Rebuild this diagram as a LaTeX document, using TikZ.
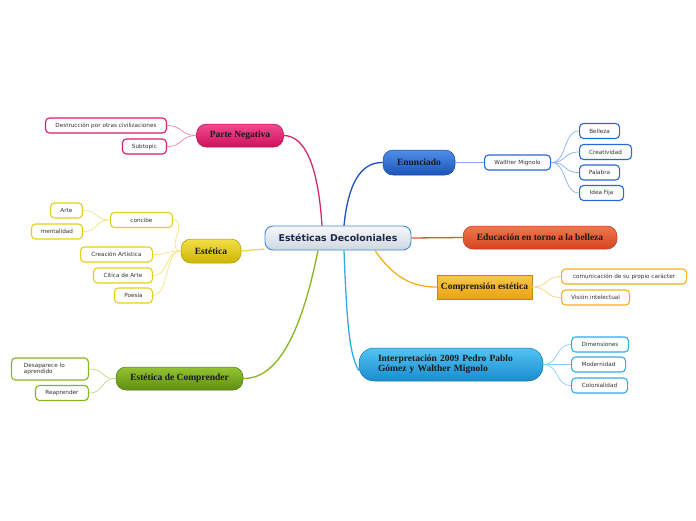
\documentclass[tikz,border=0pt]{standalone}
\usepackage{fontspec}
\setmainfont{Liberation Serif}
\setsansfont{DejaVu Sans}
\usepackage{xcolor}
\usepackage{tikz}
\usetikzlibrary{positioning}

\definecolor{pinkTop}{HTML}{F24A8E}
\definecolor{pinkBot}{HTML}{CE115E}
\definecolor{pinkEdge}{HTML}{D81B6A}
\definecolor{pinkLine}{HTML}{F283B0}
\definecolor{yelTop}{HTML}{F2E046}
\definecolor{yelBot}{HTML}{CDB406}
\definecolor{yelEdge}{HTML}{E5CD1B}
\definecolor{yelLine}{HTML}{F4E382}
\definecolor{grnTop}{HTML}{94C431}
\definecolor{grnBot}{HTML}{5E8E12}
\definecolor{grnEdge}{HTML}{86B521}
\definecolor{grnLine}{HTML}{BCD982}
\definecolor{bluTop}{HTML}{4F8FE8}
\definecolor{bluBot}{HTML}{1C54B8}
\definecolor{bluEdge}{HTML}{2867D6}
\definecolor{bluLine}{HTML}{86AEF0}
\definecolor{redTop}{HTML}{F2774E}
\definecolor{redBot}{HTML}{D5431D}
\definecolor{gldTop}{HTML}{F9C94A}
\definecolor{gldBot}{HTML}{E9A112}
\definecolor{gldEdge}{HTML}{F2B01E}
\definecolor{gldLine}{HTML}{F7D27A}
\definecolor{skyTop}{HTML}{52C4F2}
\definecolor{skyBot}{HTML}{1A8CCF}
\definecolor{skyEdge}{HTML}{33ABE8}
\definecolor{skyLine}{HTML}{86CEF2}
\definecolor{cenTop}{HTML}{F6F8FA}
\definecolor{cenBot}{HTML}{CDD7E1}
\definecolor{cenEdge}{HTML}{3F8BD6}
\definecolor{cenText}{HTML}{1B2A4A}

\begin{document}
\begin{tikzpicture}[x=1pt, y=-1pt,
  topic/.style={rounded corners=10pt, top color=#1Top, bottom color=#1Bot, draw=#1Bot!85!black,
    line width=0.5pt, font=\fontsize{9.5}{10.4}\selectfont\bfseries, text=black!90, inner sep=0pt},
  leaf/.style={draw=#1, line width=1.1pt, fill=white, rounded corners=4pt, minimum height=15pt,
    inner xsep=3pt, inner ysep=1pt, font=\fontsize{5.7}{6.8}\selectfont\sffamily, text=black!80},
  trunk/.style={line width=1.3pt},
  twig/.style={line width=0.7pt}]
\useasboundingbox (0,0) rectangle (696,520);

% centre
\node[rounded corners=8pt, top color=cenTop, bottom color=cenBot, draw=cenEdge, line width=0.9pt,
  minimum width=146pt, minimum height=24pt, text=cenText, inner xsep=2pt,
  font=\fontsize{9.4}{10}\selectfont\sffamily\bfseries] (cen) at (338,238) {Estéticas Decoloniales};

% main topics
\node[topic=pink, minimum width=87pt, minimum height=23pt] (neg) at (240,135.5) {Parte Negativa};
\node[topic=yel, minimum width=60pt, minimum height=24pt] (est) at (211,251) {Estética};
\node[topic=grn, minimum width=127pt, minimum height=23pt] (comp) at (179.5,378.5) {Estética de Comprender};
\node[topic=blu, minimum width=72pt, minimum height=25pt] (enun) at (419,162.5) {Enunciado};
\node[topic=red, minimum width=154pt, minimum height=23pt] (edu) at (540,237.5) {Educación en torno a la belleza};
\node[topic=gld, rounded corners=0pt, minimum width=95pt, minimum height=24pt] (cest) at (484.5,287) {Comprensión estética};
\node[topic=sky, rounded corners=15pt, minimum width=184pt, minimum height=33pt, text width=146pt,
  align=left, inner xsep=19pt] (interp) at (451,364.5) {Interpretación 2009 Pedro Pablo\\Gómez y Walther Mignolo};

% trunk connectors
\draw[trunk, pinkBot!90] ([xshift=-16pt]cen.north) .. controls (318,165) and (305,136) .. (neg.east);
\draw[trunk, bluBot] ([xshift=6pt]cen.north) .. controls (348,185) and (360,162) .. (enun.west);
\draw[trunk, redBot!90] (cen.east) -- (edu.west);
\draw[trunk, gldEdge] ([xshift=37pt]cen.south) .. controls (395,280) and (415,287) .. (cest.west);
\draw[trunk, skyEdge] ([xshift=6pt]cen.south) .. controls (347,330) and (350,355) .. ([yshift=-6pt]interp.west);
\draw[trunk, grnEdge] ([xshift=-20pt]cen.south) .. controls (300,340) and (275,379) .. (comp.east);
\draw[trunk, yelEdge!80] ([yshift=-11pt]cen.west) -- (est.east);

% Parte Negativa
\node[leaf=pinkEdge, minimum width=121pt, anchor=east] (destr) at (167,125.5) {Destrucción por otras civilizaciones};
\node[leaf=pinkEdge, minimum width=44pt, anchor=east] (subt) at (167,146.5) {Subtopic};
\foreach \n in {destr,subt}
  \draw[twig, pinkLine] (neg.west) .. controls +(-16,0) and +(16,0) .. (\n.east);

% Estética
\node[leaf=yelEdge, minimum width=62pt, anchor=east] (conc) at (173,220) {concibe};
\node[leaf=yelEdge, minimum width=32pt, anchor=east] (arte) at (83,210.5) {Arte};
\node[leaf=yelEdge, minimum width=51pt, anchor=east] (ment) at (83,231.5) {mentalidad};
\node[leaf=yelEdge, minimum width=72pt, anchor=east] (crea) at (153,254.5) {Creación Artística};
\node[leaf=yelEdge, minimum width=59pt, anchor=east] (citi) at (153,275.5) {Citica de Arte};
\node[leaf=yelEdge, minimum width=38pt, anchor=east] (poes) at (153,295.5) {Poesía};
\foreach \n in {conc,crea,citi,poes}
  \draw[twig, yelLine] (est.west) .. controls +(-16,0) and +(16,0) .. (\n.east);
\foreach \n in {arte,ment}
  \draw[twig, yelLine] (conc.west) .. controls +(-16,0) and +(16,0) .. (\n.east);

% Estética de Comprender
\node[leaf=grnEdge, minimum width=77pt, minimum height=22pt, text width=52pt, align=left,
  inner xsep=12.5pt, anchor=east] (desa) at (89,369) {Desaparece lo\\aprendido};
\node[leaf=grnEdge, minimum width=53pt, anchor=east] (reap) at (89,393) {Reaprender};
\foreach \n in {desa,reap}
  \draw[twig, grnLine] (comp.west) .. controls +(-16,0) and +(16,0) .. (\n.east);

% Enunciado
\node[leaf=bluEdge, minimum width=66pt, anchor=west] (walt) at (484,162.5) {Walther Mignolo};
\draw[twig, bluLine] (enun.east) -- (walt.west);
\node[leaf=bluEdge, minimum width=40pt, anchor=west] (bell) at (579,131) {Belleza};
\node[leaf=bluEdge, minimum width=52pt, anchor=west] (crtv) at (579,152) {Creatividad};
\node[leaf=bluEdge, minimum width=40pt, anchor=west] (pala) at (579,172.5) {Palabra};
\node[leaf=bluEdge, minimum width=44pt, anchor=west] (idea) at (579,193) {Idea Fija};
\foreach \n in {bell,crtv,pala,idea}
  \draw[twig, bluLine] (walt.east) .. controls +(16,0) and +(-16,0) .. (\n.west);

% Comprensión estética
\node[leaf=gldEdge, minimum width=125pt, anchor=west] (comu) at (561,276.5) {comunicación de su propio carácter};
\node[leaf=gldEdge, minimum width=68pt, anchor=west] (visi) at (561,297.5) {Visión intelectual};
\foreach \n in {comu,visi}
  \draw[twig, gldLine] (cest.east) .. controls +(16,0) and +(-16,0) .. (\n.west);

% Interpretación
\node[leaf=skyEdge, minimum width=57pt, anchor=west] (dime) at (571,344.5) {Dimensiones};
\node[leaf=skyEdge, minimum width=54pt, anchor=west] (mode) at (571,364.5) {Modernidad};
\node[leaf=skyEdge, minimum width=56pt, anchor=west] (colo) at (571,385.5) {Colonialidad};
\foreach \n in {dime,mode,colo}
  \draw[twig, skyLine] (interp.east) .. controls +(16,0) and +(-16,0) .. (\n.west);
\end{tikzpicture}
\end{document}
